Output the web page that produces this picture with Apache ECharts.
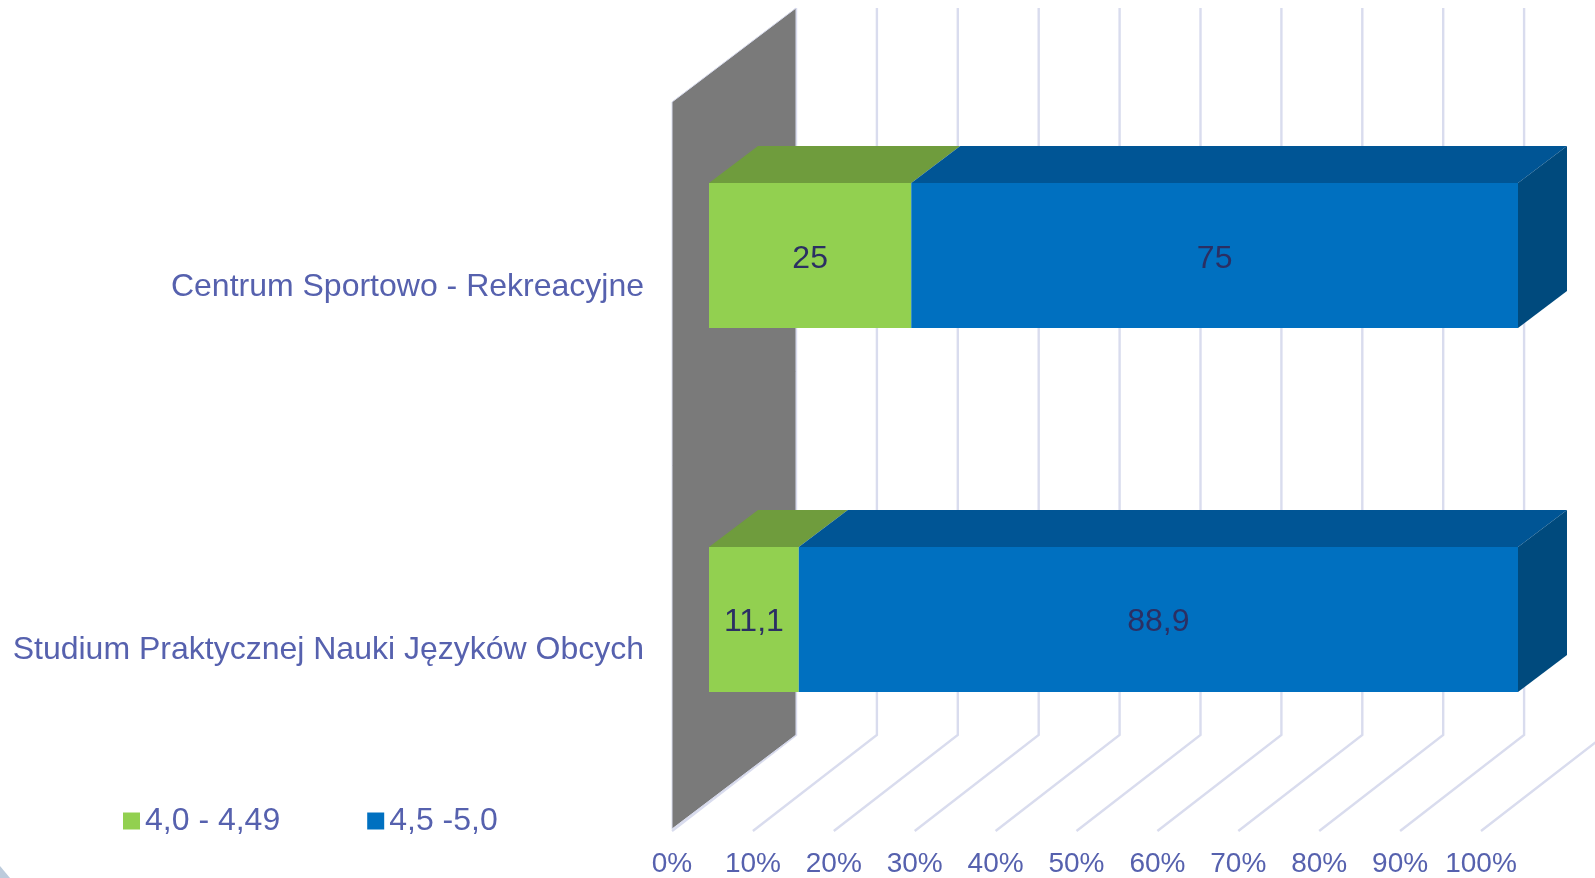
<!DOCTYPE html>
<html>
<head>
<meta charset="utf-8">
<title>Chart</title>
<style>
html, body { margin: 0; padding: 0; background: #fff; }
#myChart { width: 1595px; height: 878px; }
</style>
<script src="https://cdn.jsdelivr.net/npm/echarts@6/dist/echarts.min.js"></script>
</head>
<body>
<div id="myChart"></div>
<script>
var categories = ['Centrum Sportowo - Rekreacyjne', 'Studium Praktycznej Nauki Języków Obcych']
var seriesNames = ['4,0 - 4,49', '4,5 -5,0']
var lowShare = [25, 11.1]
var highShare = [75, 88.9]
var tickValues = [0, 10, 20, 30, 40, 50, 60, 70, 80, 90, 100]

var fontName = '"Liberation Sans", Arial, sans-serif'
var axisColor = '#5661ae'
var gridColor = '#d9dcee'
// the grid sits 3px below the floor edge so the category labels land right
var floorFront = [0, -3]
// depth of the 3d box, measured from the grid
var wallDepth = [124, -97]
var barDepth = [37, -31]
var barThick = [49, -37]
var barHeight = 145

function shift (p, d) {
  return [p[0] + d[0], p[1] + d[1]]
}

// top and bottom of the plot at value x, on the grid plane
function frontEnds (api, x) {
  var half = api.size([0, 1])[1] / 2
  var a = api.coord([x, 0])
  var b = api.coord([x, 1])
  return [[a[0], a[1] - half], [b[0], b[1] + half]]
}

function drawWall (params, api) {
  var ends = frontEnds(api, 0)
  return {
    type: 'polygon',
    silent: true,
    shape: { points: [shift(ends[0], floorFront), shift(ends[0], wallDepth), shift(ends[1], wallDepth), shift(ends[1], floorFront)] },
    style: { fill: '#7a7a7a', stroke: gridColor, lineWidth: 1 }
  }
}

function drawGridLine (params, api) {
  var ends = frontEnds(api, api.value(0))
  var front = shift(ends[1], floorFront)
  return {
    type: 'polyline',
    silent: true,
    shape: { points: [shift(ends[0], wallDepth), shift(ends[1], wallDepth), [front[0], front[1] + 2]] },
    style: { fill: 'none', stroke: gridColor, lineWidth: 2.4 }
  }
}

function makeBar (colors, isLast) {
  return function (params, api) {
    var cat = api.value(0)
    var left = shift(api.coord([api.value(1), cat]), barDepth)
    var right = shift(api.coord([api.value(2), cat]), barDepth)
    var y1 = Math.round(left[1] - barHeight / 2)
    var y2 = y1 + barHeight
    var children = [
      {
        type: 'polygon',
        shape: { points: [[left[0], y1], [right[0], y1], shift([right[0], y1], barThick), shift([left[0], y1], barThick)] },
        style: { fill: colors.top }
      },
      {
        type: 'rect',
        shape: { x: left[0], y: y1, width: right[0] - left[0], height: barHeight },
        style: { fill: colors.front }
      }
    ]
    if (isLast) {
      children.push({
        type: 'polygon',
        shape: { points: [[right[0], y1], shift([right[0], y1], barThick), shift([right[0], y2], barThick), [right[0], y2]] },
        style: { fill: colors.side }
      })
    }
    children.push({
      type: 'text',
      style: {
        text: String(api.value(3)).replace('.', ','),
        x: (left[0] + right[0]) / 2,
        y: left[1] + 3,
        align: 'center',
        verticalAlign: 'middle',
        fill: '#2b2f63',
        font: '32px ' + fontName
      }
    })
    return { type: 'group', children: children }
  }
}

var lowData = lowShare.map(function (v, i) { return [i, 0, v, v] })
var highData = highShare.map(function (v, i) { return [i, lowShare[i], lowShare[i] + v, v] })

var myChart = echarts.init(document.getElementById('myChart'), null, { renderer: 'canvas' })
myChart.setOption({
  animation: false,
  backgroundColor: '#fff',
  textStyle: { fontFamily: fontName },
  legend: {
    left: 118,
    top: 800,
    itemWidth: 17,
    itemHeight: 17,
    itemGap: 87,
    icon: 'rect',
    selectedMode: false,
    textStyle: { color: axisColor, fontSize: 32, fontFamily: fontName },
    data: [
      { name: seriesNames[0], itemStyle: { color: '#92d050' } },
      { name: seriesNames[1], itemStyle: { color: '#0070c0' } }
    ]
  },
  grid: { left: 672, top: 105, width: 809, height: 727 },
  xAxis: {
    type: 'value',
    min: 0,
    max: 100,
    interval: 10,
    axisLine: { show: false },
    axisTick: { show: false },
    splitLine: { show: false },
    axisLabel: { formatter: '{value}%', color: axisColor, fontSize: 28, fontFamily: fontName, margin: 18 }
  },
  yAxis: {
    type: 'category',
    inverse: true,
    data: categories,
    axisLine: { show: false },
    axisTick: { show: false },
    axisLabel: { color: axisColor, fontSize: 32, fontFamily: fontName, margin: 28 }
  },
  // sliver of the slide background in the bottom left corner
  graphic: [{
    type: 'polygon',
    silent: true,
    shape: { points: [[0, 866], [10, 878], [0, 878]] },
    style: { fill: '#bccbdc' }
  }],
  series: [
    { type: 'custom', name: 'gridLines', silent: true, clip: false, z: 1, renderItem: drawGridLine, encode: { x: 0 }, data: tickValues.map(function (t) { return [t] }) },
    { type: 'custom', name: 'wall', silent: true, clip: false, z: 2, renderItem: drawWall, data: [[0]] },
    { type: 'custom', name: seriesNames[0], clip: false, z: 3, renderItem: makeBar({ front: '#92d050', top: '#6f9c3d' }, false), encode: { x: [1, 2], y: 0 }, itemStyle: { color: '#92d050' }, data: lowData },
    { type: 'custom', name: seriesNames[1], clip: false, z: 4, renderItem: makeBar({ front: '#0070c0', top: '#005595', side: '#004a7d' }, true), encode: { x: [1, 2], y: 0 }, itemStyle: { color: '#0070c0' }, data: highData }
  ]
})
</script>
</body>
</html>
